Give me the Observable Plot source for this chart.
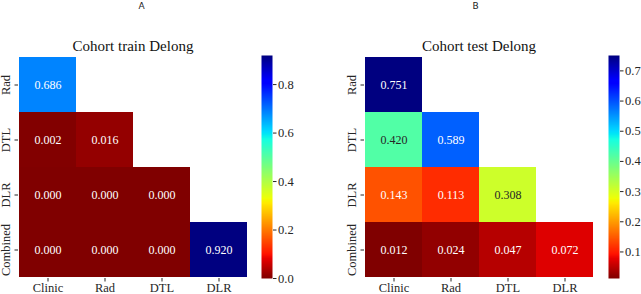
<!DOCTYPE html>
<html>
<head>
<meta charset="utf-8">
<script src="https://cdn.jsdelivr.net/npm/d3@7"></script>
<script src="https://cdn.jsdelivr.net/npm/@observablehq/plot@0.6"></script>
<style>
  html, body { margin: 0; padding: 0; background: #fff; }
  #fig { position: relative; width: 641px; height: 294px; overflow: hidden; }
  #fig > div { position: absolute; top: 0; }
</style>
</head>
<body>
<div id="fig"></div>
<script>
// Pairwise DeLong test p-values between models (lower triangle only)
const colLabels = ["Clinic", "Rad", "DTL", "DLR"];
const rowLabels = ["Rad", "DTL", "DLR", "Combined"];

const trainP = [
  [0.686],
  [0.002, 0.016],
  [0.000, 0.000, 0.000],
  [0.000, 0.000, 0.000, 0.920]
];
const testP = [
  [0.751],
  [0.420, 0.589],
  [0.143, 0.113, 0.308],
  [0.012, 0.024, 0.047, 0.072]
];

const trainTicks = [0.0, 0.2, 0.4, 0.6, 0.8];
const testTicks = [0.1, 0.2, 0.3, 0.4, 0.5, 0.6, 0.7];

const panelLetters = ["A", "B"];
const panelTitles = ["Cohort train Delong", "Cohort test Delong"];

// matplotlib "jet" colormap, reversed
const jetR = {
  r: [[0, 0], [0.35, 0], [0.66, 1], [0.89, 1], [1, 0.5]],
  g: [[0, 0], [0.125, 0], [0.375, 1], [0.64, 1], [0.91, 0], [1, 0]],
  b: [[0, 0.5], [0.11, 1], [0.34, 1], [0.65, 0], [1, 0]]
};
function seg(pts, t) {
  for (let i = 1; i < pts.length; i++) {
    if (t <= pts[i][0]) {
      const [x0, v0] = pts[i - 1], [x1, v1] = pts[i];
      return v0 + (v1 - v0) * (t - x0) / (x1 - x0);
    }
  }
  return pts[pts.length - 1][1];
}
function jetReversed(t) {
  const u = 1 - Math.max(0, Math.min(1, t));
  return d3.rgb(seg(jetR.r, u) * 255, seg(jetR.g, u) * 255, seg(jetR.b, u) * 255).formatHex();
}
// relative luminance, used to pick light or dark annotation text
function luminance(hex) {
  const c = d3.rgb(hex);
  const lin = v => { v /= 255; return v <= 0.03928 ? v / 12.92 : Math.pow((v + 0.055) / 1.055, 2.4); };
  return 0.2126 * lin(c.r) + 0.7152 * lin(c.g) + 0.0722 * lin(c.b);
}

const serif = "'Liberation Serif', 'Times New Roman', serif";
const ink = "#262626";

function toCells(matrix) {
  const cells = [];
  matrix.forEach((row, i) => row.forEach((v, j) => cells.push({row: rowLabels[i], col: colLabels[j], value: v})));
  return cells;
}

function heatmap(cells, domain, letter, title, opts) {
  const t = v => (v - domain[0]) / (domain[1] - domain[0]);
  const isLight = d => luminance(jetReversed(t(d.value))) > 0.408;
  return Plot.plot({
    width: opts.width,
    height: 294,
    marginLeft: opts.marginLeft,
    marginRight: opts.marginRight,
    marginTop: 55,
    marginBottom: 16,
    style: {fontFamily: serif, color: ink, background: "transparent", overflow: "visible"},
    x: {type: "band", domain: colLabels, padding: 0, label: null},
    y: {type: "band", domain: rowLabels, padding: 0, label: null},
    color: {type: "linear", domain, interpolate: jetReversed},
    marks: [
      Plot.cell(cells, {x: "col", y: "row", fill: "value", inset: 0}),
      Plot.text(cells.filter(d => !isLight(d)), {x: "col", y: "row", text: d => d.value.toFixed(3), fill: "white", fontSize: 12}),
      Plot.text(cells.filter(isLight), {x: "col", y: "row", text: d => d.value.toFixed(3), fill: ink, fontSize: 12}),
      Plot.axisX({tickSize: 3.5, tickPadding: 1, fontSize: 12.5, stroke: ink}),
      Plot.axisY({tickSize: 3.5, tickFormat: () => "", stroke: ink}),
      // rotated row labels, baseline just left of the tick marks
      Plot.text(rowLabels, {y: d => d, frameAnchor: "left", textAnchor: "middle", lineAnchor: "bottom", rotate: -90, dx: opts.rowLabelDx, fontSize: 12.5, fill: ink}),
      Plot.text([title], {frameAnchor: "top", lineAnchor: "bottom", dy: -5, fontSize: 15, fill: "#111"}),
      Plot.text([letter], {frameAnchor: "top", lineAnchor: "bottom", dy: -46.5, dx: opts.letterDx, fontSize: 9, fontFamily: "'DejaVu Sans', sans-serif", fill: "#222"})
    ]
  });
}

function colorbar(domain, ticks, opts) {
  return Plot.plot({
    width: opts.width,
    height: 294,
    marginLeft: 11,
    marginRight: opts.width - 22,
    marginTop: 55,
    marginBottom: 16,
    style: {fontFamily: serif, color: ink, background: "transparent", overflow: "visible"},
    x: {domain: [0, 1], axis: null},
    y: {domain, label: null},
    color: {type: "linear", domain, interpolate: jetReversed},
    marks: [
      Plot.raster({x1: 0, x2: 1, y1: domain[0], y2: domain[1], width: 1, height: 400, fill: (x, y) => y}),
      Plot.axisY({anchor: "right", ticks, tickFormat: d3.format(".1f"), tickSize: 3.5, tickPadding: 2, fontSize: 12.5, stroke: ink})
    ]
  });
}

const fig = document.getElementById("fig");
function place(node, left) {
  const wrap = document.createElement("div");
  wrap.style.left = left + "px";
  wrap.appendChild(node);
  fig.appendChild(wrap);
}

const trainCells = toCells(trainP);
const testCells = toCells(testP);
const trainDomain = d3.extent(trainCells, d => d.value);
const testDomain = d3.extent(testCells, d => d.value);

place(heatmap(trainCells, trainDomain, panelLetters[0], panelTitles[0], {width: 250, marginLeft: 18, marginRight: 3, letterDx: 8.5, rowLabelDx: -8.5}), 0);
place(colorbar(trainDomain, trainTicks, {width: 70}), 250);
place(heatmap(testCells, testDomain, panelLetters[1], panelTitles[1], {width: 280, marginLeft: 44, marginRight: 7, letterDx: -3.5, rowLabelDx: -8.5}), 320);
place(colorbar(testDomain, testTicks, {width: 44}), 597);
</script>
</body>
</html>
